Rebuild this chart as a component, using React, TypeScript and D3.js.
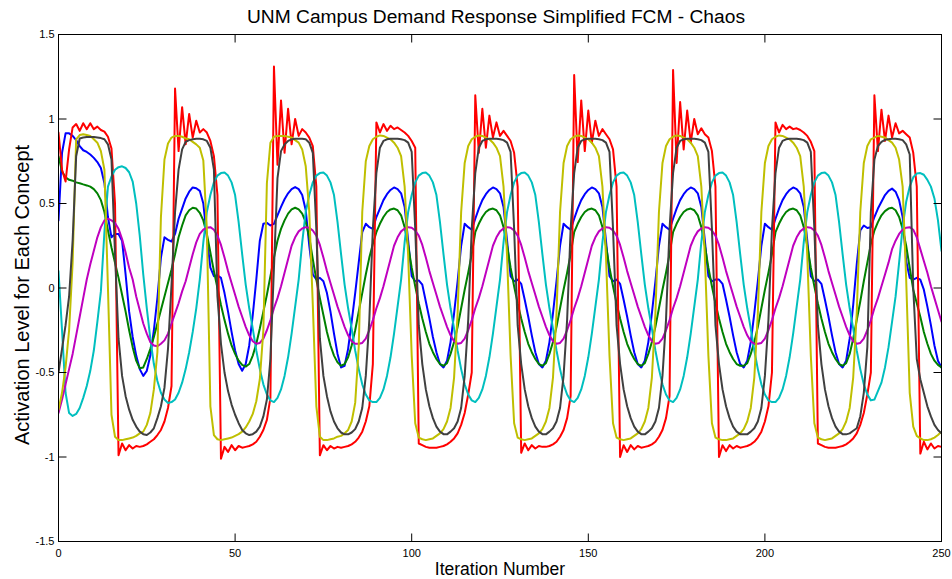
import React from "react";
import * as d3 from "d3";

const X_TICKS = [0, 50, 100, 150, 200, 250];
const Y_TICKS = [-1.5, -1, -0.5, 0, 0.5, 1, 1.5];
const TITLE = "UNM Campus Demand Response Simplified FCM - Chaos";
const X_LABEL = "Iteration Number";
const Y_LABEL = "Activation Level for Each Concept";

// Concept 1 (blue)
const concept1 = [
  0.40, 0.80, 0.915, 0.915, 0.90, 0.875, 0.84, 0.815, 0.805, 0.79, 0.77, 0.745, 0.71, 0.62, 0.42, 0.30, 0.32, 0.32, 0.28, 0.08, -0.14, -0.29, -0.40, -0.48, -0.52, -0.49, -0.40, -0.25, -0.06, 0.18, 0.30, 0.285, 0.275,
  0.32, 0.41, 0.47, 0.53, 0.57, 0.595, 0.59, 0.575, 0.50, 0.30, 0.12, 0.07, 0.075, 0.06, -0.03, -0.14, -0.26, -0.37, -0.45, -0.49, -0.45, -0.34, -0.16, 0.05, 0.28, 0.38, 0.385, 0.37,
  0.38, 0.43, 0.48, 0.525, 0.56, 0.585, 0.597, 0.585, 0.55, 0.46, 0.25, 0.08, 0.05, 0.06, 0.04, -0.03, -0.14, -0.27, -0.39, -0.47, -0.46, -0.36, -0.20, -0.03, 0.15, 0.33, 0.38, 0.36, 0.35,
  0.42, 0.47, 0.52, 0.555, 0.58, 0.595, 0.585, 0.56, 0.48, 0.28, 0.07, 0.04, 0.045, 0.02, -0.08, -0.18, -0.29, -0.38, -0.45, -0.47, -0.43, -0.32, -0.15, 0.04, 0.25, 0.38, 0.36, 0.345,
  0.41, 0.47, 0.52, 0.555, 0.58, 0.595, 0.585, 0.56, 0.48, 0.28, 0.07, 0.04, 0.05, 0.025, -0.07, -0.17, -0.28, -0.38, -0.45, -0.47, -0.43, -0.32, -0.15, 0.04, 0.25, 0.38, 0.36, 0.345,
  0.41, 0.47, 0.52, 0.555, 0.58, 0.595, 0.585, 0.56, 0.48, 0.28, 0.07, 0.04, 0.05, 0.025, -0.07, -0.17, -0.28, -0.38, -0.45, -0.47, -0.43, -0.32, -0.15, 0.04, 0.25, 0.38, 0.36, 0.345,
  0.41, 0.47, 0.52, 0.555, 0.58, 0.595, 0.585, 0.56, 0.48, 0.28, 0.07, 0.04, 0.05, 0.05, 0.025, -0.07, -0.17, -0.28, -0.38, -0.45, -0.47, -0.43, -0.32, -0.15, 0.04, 0.25, 0.38, 0.36, 0.345,
  0.41, 0.47, 0.52, 0.555, 0.58, 0.595, 0.585, 0.56, 0.48, 0.28, 0.07, 0.04, 0.05, 0.025, -0.07, -0.17, -0.28, -0.38, -0.45, -0.47, -0.43, -0.30, -0.10, 0.14, 0.34, 0.37, 0.355, 0.36,
  0.42, 0.47, 0.51, 0.55, 0.575, 0.588, 0.57, 0.52, 0.42, 0.16, 0.06, 0.05, 0.06, 0.05, -0.01, -0.11, -0.22, -0.34, -0.43, -0.47,
];

// Concept 2 (green)
const concept2 = [
  0.78, 0.69, 0.655, 0.64, 0.635, 0.625, 0.62, 0.613, 0.607, 0.60, 0.585, 0.56, 0.52, 0.45, 0.34, 0.24, 0.15, 0.06, -0.04, -0.14, -0.25, -0.35, -0.43, -0.475, -0.47, -0.42, -0.36, -0.29, -0.21, -0.13, -0.05, 0.03, 0.11,
  0.20, 0.30, 0.37, 0.43, 0.46, 0.475, 0.47, 0.445, 0.40, 0.32, 0.21, 0.10, 0.0, -0.10, -0.19, -0.27, -0.34, -0.39, -0.43, -0.455, -0.465, -0.45, -0.40, -0.33, -0.24, -0.14, -0.04, 0.07,
  0.18, 0.28, 0.35, 0.40, 0.44, 0.465, 0.475, 0.465, 0.44, 0.39, 0.30, 0.17, 0.05, -0.06, -0.16, -0.26, -0.34, -0.40, -0.44, -0.46, -0.45, -0.41, -0.34, -0.25, -0.14, -0.03, 0.08, 0.18, 0.26,
  0.33, 0.38, 0.42, 0.45, 0.465, 0.47, 0.46, 0.43, 0.36, 0.25, 0.12, 0.01, -0.09, -0.18, -0.26, -0.33, -0.38, -0.42, -0.45, -0.46, -0.445, -0.39, -0.32, -0.23, -0.12, -0.01, 0.09, 0.20,
  0.33, 0.38, 0.42, 0.45, 0.465, 0.47, 0.46, 0.43, 0.36, 0.25, 0.12, 0.01, -0.09, -0.18, -0.26, -0.33, -0.38, -0.42, -0.45, -0.46, -0.445, -0.39, -0.32, -0.23, -0.12, -0.01, 0.09, 0.20,
  0.33, 0.38, 0.42, 0.45, 0.465, 0.47, 0.46, 0.43, 0.36, 0.25, 0.12, 0.01, -0.09, -0.18, -0.26, -0.33, -0.38, -0.42, -0.45, -0.46, -0.445, -0.39, -0.32, -0.23, -0.12, -0.01, 0.09, 0.20,
  0.33, 0.38, 0.42, 0.45, 0.465, 0.47, 0.46, 0.43, 0.36, 0.25, 0.12, 0.01, -0.09, -0.18, -0.26, -0.33, -0.38, -0.42, -0.45, -0.46, -0.46, -0.445, -0.39, -0.32, -0.23, -0.12, -0.01, 0.09, 0.20,
  0.33, 0.38, 0.42, 0.45, 0.465, 0.47, 0.46, 0.43, 0.36, 0.25, 0.12, 0.01, -0.09, -0.18, -0.26, -0.33, -0.38, -0.42, -0.45, -0.46, -0.445, -0.39, -0.30, -0.19, -0.08, 0.04, 0.15, 0.26,
  0.34, 0.39, 0.43, 0.455, 0.47, 0.475, 0.46, 0.42, 0.35, 0.25, 0.12, -0.01, -0.09, -0.17, -0.26, -0.33, -0.39, -0.43, -0.455, -0.47,
];

// Concept 3 (red)
const concept3 = [
  0.92, 0.70, 0.63, 0.82, 0.95, 0.97, 0.93, 0.975, 0.94, 0.975, 0.94, 0.955, 0.935, 0.925, 0.895, 0.825, 0.5, -0.99, -0.92, -0.96, -0.93, -0.95, -0.935, -0.94, -0.935, -0.925, -0.91, -0.895, -0.87, -0.84, -0.79, -0.71, -0.58,
  1.18, 0.81, 1.07, 0.85, 1.03, 0.89, 0.99, 0.92, 0.94, 0.92, 0.87, 0.78, 0.55, -1.01, -0.94, -0.97, -0.93, -0.96, -0.935, -0.945, -0.94, -0.935, -0.925, -0.91, -0.88, -0.84, -0.78, -0.65,
  1.31, 0.73, 1.11, 0.80, 1.06, 0.85, 1.00, 0.90, 0.94, 0.92, 0.89, 0.84, 0.6, -0.99, -0.93, -0.96, -0.935, -0.95, -0.94, -0.945, -0.94, -0.935, -0.925, -0.91, -0.885, -0.85, -0.79, -0.70, -0.45,
  0.98, 0.92, 0.97, 0.93, 0.96, 0.94, 0.95, 0.935, 0.92, 0.90, 0.87, 0.83, -0.92, -0.93, -0.94, -0.945, -0.945, -0.945, -0.94, -0.935, -0.925, -0.91, -0.89, -0.86, -0.81, -0.74, -0.63, -0.50,
  1.14, 0.80, 1.06, 0.83, 1.02, 0.89, 0.98, 0.90, 0.93, 0.90, 0.87, 0.80, 0.6, -0.975, -0.92, -0.96, -0.93, -0.95, -0.935, -0.94, -0.94, -0.935, -0.925, -0.91, -0.88, -0.84, -0.77, -0.64,
  1.26, 0.745, 1.11, 0.81, 1.05, 0.86, 0.99, 0.90, 0.94, 0.91, 0.88, 0.82, 0.6, -1.0, -0.93, -0.97, -0.93, -0.955, -0.935, -0.945, -0.94, -0.935, -0.925, -0.91, -0.88, -0.84, -0.77, -0.64,
  1.29, 0.74, 1.10, 0.82, 1.05, 0.86, 1.00, 0.91, 0.945, 0.91, 0.89, 0.81, 0.6, -1.0, -0.93, -0.965, -0.93, -0.95, -0.935, -0.945, -0.94, -0.935, -0.925, -0.91, -0.885, -0.85, -0.79, -0.70, -0.50,
  0.98, 0.92, 0.965, 0.94, 0.955, 0.94, 0.945, 0.935, 0.92, 0.90, 0.865, 0.81, -0.92, -0.93, -0.94, -0.945, -0.945, -0.945, -0.94, -0.935, -0.925, -0.91, -0.89, -0.86, -0.81, -0.74, -0.63, -0.50,
  1.14, 0.81, 1.055, 0.87, 1.02, 0.89, 0.975, 0.915, 0.93, 0.91, 0.89, 0.80, 0.6, -0.98, -0.91, -0.955, -0.92, -0.95, -0.935, -0.94,
];

// Concept 4 (cyan)
const concept4 = [
  0.10, -0.25, -0.62, -0.74, -0.757, -0.745, -0.71, -0.65, -0.58, -0.49, -0.37, -0.20, -0.02, 0.33, 0.60, 0.66, 0.70, 0.715, 0.72, 0.71, 0.685, 0.63, 0.50, 0.31, 0.08, -0.12, -0.30, -0.45, -0.55, -0.62, -0.66, -0.68, -0.675,
  -0.66, -0.62, -0.56, -0.48, -0.38, -0.26, -0.12, 0.05, 0.27, 0.45, 0.55, 0.625, 0.665, 0.68, 0.683, 0.665, 0.625, 0.55, 0.39, 0.20, 0.02, -0.12, -0.24, -0.37, -0.48, -0.57, -0.63, -0.665,
  -0.675, -0.65, -0.60, -0.52, -0.41, -0.27, -0.11, 0.05, 0.27, 0.45, 0.55, 0.625, 0.665, 0.68, 0.683, 0.665, 0.625, 0.55, 0.39, 0.20, 0.02, -0.12, -0.24, -0.37, -0.48, -0.57, -0.63, -0.665, -0.675,
  -0.675, -0.65, -0.60, -0.52, -0.41, -0.27, -0.11, 0.05, 0.27, 0.45, 0.55, 0.625, 0.665, 0.68, 0.683, 0.665, 0.625, 0.55, 0.39, 0.20, 0.02, -0.12, -0.24, -0.37, -0.48, -0.57, -0.63, -0.665,
  -0.675, -0.65, -0.60, -0.52, -0.41, -0.27, -0.11, 0.05, 0.27, 0.45, 0.55, 0.625, 0.665, 0.68, 0.683, 0.665, 0.625, 0.55, 0.39, 0.20, 0.02, -0.12, -0.24, -0.37, -0.48, -0.57, -0.63, -0.665,
  -0.675, -0.65, -0.60, -0.52, -0.41, -0.27, -0.11, 0.05, 0.27, 0.45, 0.55, 0.625, 0.665, 0.68, 0.683, 0.665, 0.625, 0.55, 0.39, 0.20, 0.02, -0.12, -0.24, -0.37, -0.48, -0.57, -0.63, -0.665,
  -0.675, -0.65, -0.60, -0.52, -0.41, -0.27, -0.11, 0.05, 0.27, 0.45, 0.55, 0.625, 0.665, 0.68, 0.683, 0.665, 0.625, 0.55, 0.39, 0.20, 0.02, -0.12, -0.24, -0.37, -0.48, -0.57, -0.63, -0.665, -0.675,
  -0.675, -0.65, -0.60, -0.52, -0.41, -0.27, -0.11, 0.05, 0.27, 0.45, 0.55, 0.625, 0.665, 0.68, 0.683, 0.665, 0.625, 0.55, 0.39, 0.20, 0.02, -0.12, -0.24, -0.37, -0.48, -0.57, -0.63, -0.665,
  -0.66, -0.61, -0.56, -0.47, -0.35, -0.20, -0.05, 0.15, 0.36, 0.51, 0.60, 0.655, 0.677, 0.68, 0.67, 0.64, 0.60, 0.53, 0.40, 0.22,
];

// Concept 5 (magenta)
const concept5 = [
  -0.74, -0.66, -0.57, -0.48, -0.39, -0.28, -0.17, -0.06, 0.05, 0.14, 0.22, 0.30, 0.36, 0.40, 0.41, 0.40, 0.385, 0.35, 0.29, 0.21, 0.12, 0.05, -0.05, -0.13, -0.21, -0.27, -0.32, -0.34, -0.345, -0.33, -0.31, -0.27, -0.21,
  -0.15, -0.09, -0.02, 0.04, 0.12, 0.20, 0.27, 0.32, 0.345, 0.357, 0.36, 0.345, 0.31, 0.255, 0.18, 0.10, 0.03, -0.04, -0.11, -0.17, -0.23, -0.28, -0.315, -0.33, -0.325, -0.30, -0.25, -0.19,
  -0.12, -0.06, 0.01, 0.09, 0.17, 0.25, 0.30, 0.335, 0.352, 0.36, 0.357, 0.34, 0.31, 0.255, 0.18, 0.10, 0.03, -0.04, -0.11, -0.17, -0.23, -0.28, -0.315, -0.33, -0.33, -0.325, -0.30, -0.25, -0.19,
  -0.12, -0.06, 0.01, 0.09, 0.17, 0.25, 0.30, 0.335, 0.352, 0.36, 0.357, 0.34, 0.31, 0.255, 0.18, 0.10, 0.03, -0.04, -0.11, -0.17, -0.23, -0.28, -0.315, -0.33, -0.325, -0.30, -0.25, -0.19,
  -0.12, -0.06, 0.01, 0.09, 0.17, 0.25, 0.30, 0.335, 0.352, 0.36, 0.357, 0.34, 0.31, 0.255, 0.18, 0.10, 0.03, -0.04, -0.11, -0.17, -0.23, -0.28, -0.315, -0.33, -0.325, -0.30, -0.25, -0.19,
  -0.12, -0.06, 0.01, 0.09, 0.17, 0.25, 0.30, 0.335, 0.352, 0.36, 0.357, 0.34, 0.31, 0.255, 0.18, 0.10, 0.03, -0.04, -0.11, -0.17, -0.23, -0.28, -0.315, -0.33, -0.325, -0.30, -0.25, -0.19,
  -0.12, -0.06, 0.01, 0.09, 0.17, 0.25, 0.30, 0.335, 0.352, 0.36, 0.357, 0.34, 0.31, 0.255, 0.18, 0.10, 0.03, -0.04, -0.11, -0.17, -0.23, -0.28, -0.315, -0.33, -0.33, -0.325, -0.30, -0.25, -0.19,
  -0.12, -0.06, 0.01, 0.09, 0.17, 0.25, 0.30, 0.335, 0.352, 0.36, 0.357, 0.34, 0.31, 0.255, 0.18, 0.10, 0.03, -0.04, -0.11, -0.17, -0.23, -0.28, -0.315, -0.33, -0.325, -0.30, -0.25, -0.19,
  -0.12, -0.06, 0.01, 0.08, 0.15, 0.23, 0.28, 0.32, 0.345, 0.357, 0.36, 0.345, 0.30, 0.23, 0.16, 0.09, 0.01, -0.06, -0.13, -0.20,
];

// Concept 6 (yellow)
const concept6 = [
  -0.72, -0.62, -0.47, -0.25, 0.15, 0.88, 0.905, 0.91, 0.905, 0.90, 0.88, 0.86, 0.81, 0.70, 0.0, -0.75, -0.88, -0.90, -0.90, -0.895, -0.89, -0.885, -0.875, -0.86, -0.85, -0.81, -0.74, -0.60, -0.38, 0.42, 0.76, 0.855, 0.89,
  0.90, 0.90, 0.895, 0.885, 0.88, 0.865, 0.85, 0.83, 0.755, 0.35, -0.70, -0.87, -0.895, -0.90, -0.895, -0.89, -0.885, -0.875, -0.865, -0.85, -0.825, -0.79, -0.745, -0.67, -0.54, -0.25, 0.62, 0.86,
  0.895, 0.90, 0.90, 0.90, 0.895, 0.89, 0.875, 0.86, 0.82, 0.72, 0.45, -0.10, -0.70, -0.88, -0.90, -0.90, -0.895, -0.89, -0.88, -0.875, -0.86, -0.84, -0.79, -0.68, -0.35, 0.45, 0.75, 0.84, 0.88,
  0.895, 0.903, 0.90, 0.89, 0.88, 0.86, 0.83, 0.78, 0.60, 0.19, -0.40, -0.80, -0.885, -0.895, -0.90, -0.895, -0.89, -0.875, -0.86, -0.835, -0.79, -0.71, -0.53, -0.15, 0.45, 0.74, 0.84, 0.88,
  0.895, 0.903, 0.90, 0.89, 0.88, 0.86, 0.83, 0.78, 0.60, 0.19, -0.40, -0.80, -0.885, -0.895, -0.90, -0.895, -0.89, -0.875, -0.86, -0.835, -0.79, -0.71, -0.53, -0.15, 0.45, 0.74, 0.84, 0.88,
  0.895, 0.903, 0.90, 0.89, 0.88, 0.86, 0.83, 0.78, 0.60, 0.19, -0.40, -0.80, -0.885, -0.895, -0.90, -0.895, -0.89, -0.875, -0.86, -0.835, -0.79, -0.71, -0.53, -0.15, 0.45, 0.74, 0.84, 0.88,
  0.895, 0.903, 0.90, 0.89, 0.88, 0.86, 0.83, 0.78, 0.60, 0.19, -0.40, -0.80, -0.885, -0.895, -0.90, -0.90, -0.895, -0.89, -0.875, -0.86, -0.835, -0.79, -0.71, -0.53, -0.15, 0.45, 0.74, 0.84, 0.88,
  0.895, 0.903, 0.90, 0.89, 0.88, 0.86, 0.83, 0.78, 0.60, 0.19, -0.40, -0.80, -0.885, -0.895, -0.90, -0.895, -0.89, -0.875, -0.86, -0.835, -0.79, -0.71, -0.53, -0.15, 0.45, 0.74, 0.84, 0.88,
  0.89, 0.90, 0.895, 0.89, 0.875, 0.86, 0.83, 0.76, 0.60, 0.05, -0.62, -0.82, -0.875, -0.89, -0.90, -0.90, -0.895, -0.885, -0.87, -0.85,
];

// Concept 7 (dark grey)
const concept7 = [
  -0.50, -0.36, -0.22, -0.05, 0.28, 0.78, 0.885, 0.89, 0.893, 0.893, 0.893, 0.89, 0.887, 0.88, 0.85, 0.76, 0.2, -0.30, -0.52, -0.64, -0.72, -0.78, -0.82, -0.85, -0.865, -0.87, -0.855, -0.83, -0.77, -0.70, -0.59, -0.36, 0.02,
  0.45, 0.70, 0.82, 0.865, 0.875, 0.88, 0.883, 0.883, 0.88, 0.87, 0.83, 0.70, -0.05, -0.33, -0.50, -0.61, -0.69, -0.75, -0.80, -0.84, -0.86, -0.87, -0.865, -0.85, -0.82, -0.76, -0.66, -0.42,
  0.12, 0.65, 0.81, 0.85, 0.87, 0.88, 0.883, 0.883, 0.883, 0.88, 0.86, 0.80, 0.35, -0.30, -0.52, -0.64, -0.73, -0.79, -0.83, -0.855, -0.866, -0.866, -0.855, -0.835, -0.79, -0.71, -0.52, -0.19, 0.35,
  0.68, 0.83, 0.87, 0.88, 0.883, 0.883, 0.883, 0.88, 0.875, 0.86, 0.805, 0.35, -0.22, -0.45, -0.60, -0.70, -0.77, -0.82, -0.85, -0.865, -0.866, -0.85, -0.83, -0.79, -0.71, -0.52, -0.19, 0.35,
  0.68, 0.83, 0.87, 0.88, 0.883, 0.883, 0.883, 0.88, 0.875, 0.86, 0.805, 0.35, -0.22, -0.45, -0.60, -0.70, -0.77, -0.82, -0.85, -0.865, -0.866, -0.85, -0.83, -0.79, -0.71, -0.52, -0.19, 0.35,
  0.68, 0.83, 0.87, 0.88, 0.883, 0.883, 0.883, 0.88, 0.875, 0.86, 0.805, 0.35, -0.22, -0.45, -0.60, -0.70, -0.77, -0.82, -0.85, -0.865, -0.866, -0.85, -0.83, -0.79, -0.71, -0.52, -0.19, 0.35,
  0.68, 0.83, 0.87, 0.88, 0.883, 0.883, 0.883, 0.88, 0.875, 0.86, 0.805, 0.35, -0.22, -0.45, -0.60, -0.70, -0.77, -0.82, -0.85, -0.865, -0.866, -0.866, -0.85, -0.83, -0.79, -0.71, -0.52, -0.19, 0.35,
  0.68, 0.83, 0.87, 0.88, 0.883, 0.883, 0.883, 0.88, 0.875, 0.86, 0.805, 0.35, -0.22, -0.45, -0.60, -0.70, -0.77, -0.82, -0.85, -0.865, -0.866, -0.86, -0.845, -0.83, -0.76, -0.62, -0.35, 0.45,
  0.76, 0.84, 0.865, 0.877, 0.88, 0.883, 0.883, 0.88, 0.875, 0.85, 0.79, 0.0, -0.42, -0.54, -0.62, -0.70, -0.76, -0.81, -0.84, -0.86,
];

const SERIES = [
  { key: "c1", values: concept1, color: "#0000FF" },
  { key: "c2", values: concept2, color: "#008000" },
  { key: "c3", values: concept3, color: "#FF0000" },
  { key: "c4", values: concept4, color: "#00BFBF" },
  { key: "c5", values: concept5, color: "#BF00BF" },
  { key: "c6", values: concept6, color: "#BFBF00" },
  { key: "c7", values: concept7, color: "#404040" },
];

export default function App() {
  const W = 952;
  const H = 579;
  const L = 58.5;
  const R = 941.5;
  const T = 34.5;
  const B = 541.5;
  const x = d3.scaleLinear().domain([0, 250]).range([L, R]);
  const y = d3.scaleLinear().domain([-1.5, 1.5]).range([B, T]);
  const line = d3
    .line<number>()
    .x((_, i) => x(i))
    .y((d) => y(d));
  const font = "'Liberation Sans', Arial, Helvetica, sans-serif";
  const tickLen = 8;
  const fmt = (v: number) => String(v);

  return (
    <svg
      width={W}
      height={H}
      viewBox={`0 0 ${W} ${H}`}
      style={{ position: "absolute", left: 0, top: 0, display: "block" }}
      fontFamily={font}
    >
      <rect x={0} y={0} width={W} height={H} fill="#ffffff" />
      <defs>
        <clipPath id="plotClip">
          <rect x={L} y={T} width={R - L} height={B - T} />
        </clipPath>
      </defs>
      <g clipPath="url(#plotClip)">
        {SERIES.map((s) => (
          <path
            key={s.key}
            d={line(s.values) ?? ""}
            fill="none"
            stroke={s.color}
            strokeWidth={2}
            strokeLinejoin="round"
            strokeLinecap="round"
          />
        ))}
      </g>
      <rect x={L} y={T} width={R - L} height={B - T} fill="none" stroke="#000" strokeWidth={1} />
      {X_TICKS.map((t) => (
        <g key={`xt${t}`}>
          <line x1={x(t)} x2={x(t)} y1={B} y2={B - tickLen} stroke="#000" strokeWidth={1} />
          <line x1={x(t)} x2={x(t)} y1={T} y2={T + tickLen} stroke="#000" strokeWidth={1} />
          <text x={x(t)} y={B + 15} fontSize={11} textAnchor="middle" fill="#000">
            {fmt(t)}
          </text>
        </g>
      ))}
      {Y_TICKS.map((t) => (
        <g key={`yt${t}`}>
          <line x1={L} x2={L + tickLen} y1={y(t)} y2={y(t)} stroke="#000" strokeWidth={1} />
          <line x1={R} x2={R - tickLen} y1={y(t)} y2={y(t)} stroke="#000" strokeWidth={1} />
          <text x={L - 4} y={y(t)} dy="0.35em" fontSize={11} textAnchor="end" fill="#000">
            {fmt(t)}
          </text>
        </g>
      ))}
      <text x={496} y={23} fontSize={19.2} textAnchor="middle" fill="#000">
        {TITLE}
      </text>
      <text x={500} y={575} fontSize={17.5} textAnchor="middle" fill="#000">
        {X_LABEL}
      </text>
      <text
        transform={`translate(29, 295) rotate(-90)`}
        fontSize={20}
        textAnchor="middle"
        fill="#000"
      >
        {Y_LABEL}
      </text>
    </svg>
  );
}
